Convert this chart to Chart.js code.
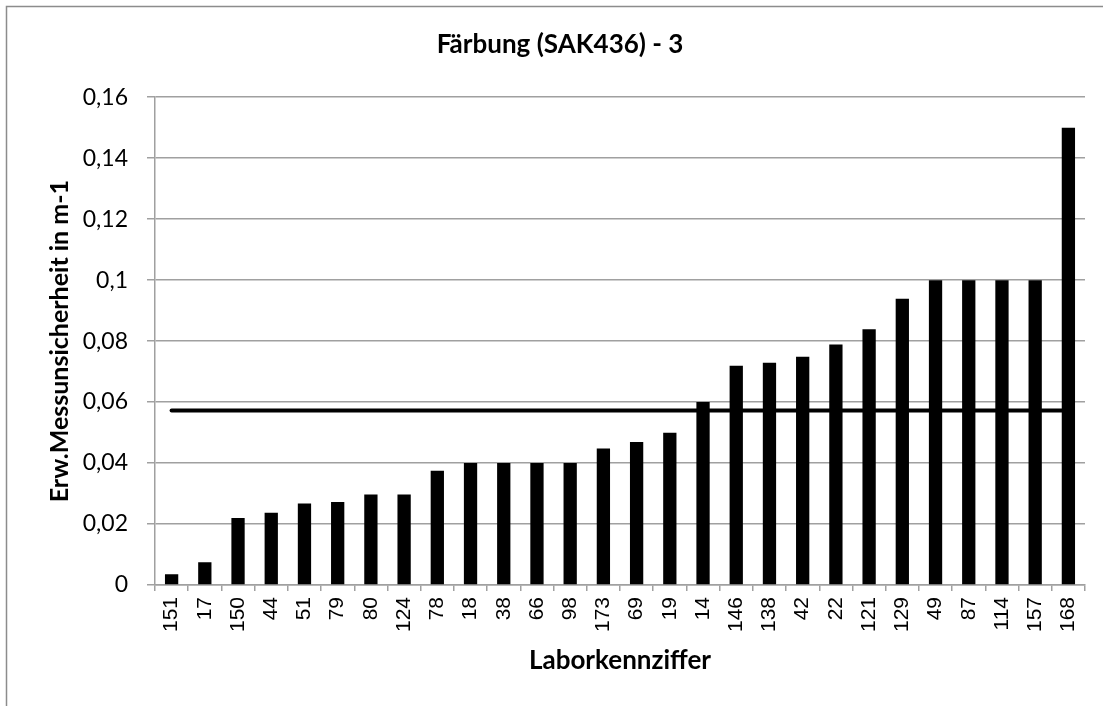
<!DOCTYPE html>
<html>
<head>
<meta charset="utf-8">
<script src="https://cdn.jsdelivr.net/npm/chart.js@4"></script>
<style>
  html, body { margin: 0; padding: 0; background: #fff; }
  #wrap { width: 1103px; height: 706px; }
</style>
</head>
<body>
<div id="wrap"><canvas id="c" width="1103" height="706"></canvas></div>
<script>
const categories = ["151","17","150","44","51","79","80","124","78","18","38","66","98","173","69","19","14","146","138","42","22","121","129","49","87","114","157","168"];
const uncertainty = [0.0035,0.0075,0.022,0.0237,0.0267,0.0272,0.0297,0.0297,0.0375,0.04,0.04,0.04,0.04,0.0448,0.0469,0.0499,0.06,0.0719,0.0729,0.0749,0.0789,0.0839,0.0939,0.1,0.1,0.1,0.1,0.15];
const meanValue = 0.0572;
const meanLine = categories.map(() => meanValue);
const chartTitle = "Färbung (SAK436) - 3";
const xTitle = "Laborkennziffer";
const yTitle = "Erw.Messunsicherheit in m-1";

const frame = {
  id: 'frame',
  beforeDraw(chart) {
    const ctx = chart.ctx;
    ctx.save();
    ctx.fillStyle = '#fff';
    ctx.fillRect(0, 0, chart.width, chart.height);
    ctx.strokeStyle = '#8c8c8c';
    ctx.lineWidth = 1.5;
    ctx.strokeRect(6.5, 6.5, chart.width + 20, chart.height + 20);
    ctx.restore();
  }
};

const gridColor = '#a0a0a0';

new Chart(document.getElementById('c'), {
  type: 'bar',
  data: {
    labels: categories,
    datasets: [
      {
        type: 'line',
        data: meanLine,
        borderColor: '#000',
        borderWidth: 4,
        borderCapStyle: 'round',
        pointRadius: 0,
        fill: false,
        order: 0
      },
      {
        type: 'bar',
        data: uncertainty,
        backgroundColor: '#000',
        borderWidth: 0,
        barPercentage: 0.4,
        categoryPercentage: 1.0,
        order: 1
      }
    ]
  },
  options: {
    responsive: false,
    animation: false,
    devicePixelRatio: 1,
    layout: { padding: { left: 35, right: 18, top: 0, bottom: 0 } },
    plugins: {
      legend: { display: false },
      tooltip: { enabled: false },
      title: {
        display: true,
        text: chartTitle,
        color: '#000',
        font: { family: 'Lato', size: 26, weight: 'bold', lineHeight: 1.2 },
        padding: { top: 29, bottom: 37 }
      }
    },
    scales: {
      x: {
        offset: true,
        grid: { display: true, drawOnChartArea: false, drawTicks: true, tickLength: 6, color: gridColor, lineWidth: 1.5, offset: true },
        border: { display: true, color: gridColor, width: 1.5 },
        ticks: {
          color: '#000',
          font: { family: 'Liberation Sans', size: 21 },
          minRotation: 90, maxRotation: 90,
          padding: 6,
          autoSkip: false
        },
        title: {
          display: true,
          text: xTitle,
          color: '#000',
          font: { family: 'Lato', size: 26, weight: 'bold', lineHeight: 1.2 },
          padding: { top: 0, bottom: 30 }
        },
        afterFit(scale) { scale.height = 121; }
      },
      y: {
        min: 0,
        max: 0.16,
        ticks: {
          stepSize: 0.02,
          color: '#000',
          font: { family: 'Lato', size: 23 },
          padding: 19,
          callback: (v) => Number(v.toFixed(2)).toString().replace('.', ',')
        },
        grid: { color: gridColor, lineWidth: 1.5, tickLength: 8 },
        border: { display: true, color: gridColor, width: 1.5 },
        title: {
          display: true,
          text: yTitle,
          color: '#000',
          font: { family: 'Lato', size: 25, weight: 'bold', lineHeight: 1.2 },
          padding: { top: 10, bottom: 0 }
        },
        afterFit(scale) { scale.width = 120; }
      }
    }
  },
  plugins: [frame]
});
</script>
</body>
</html>
